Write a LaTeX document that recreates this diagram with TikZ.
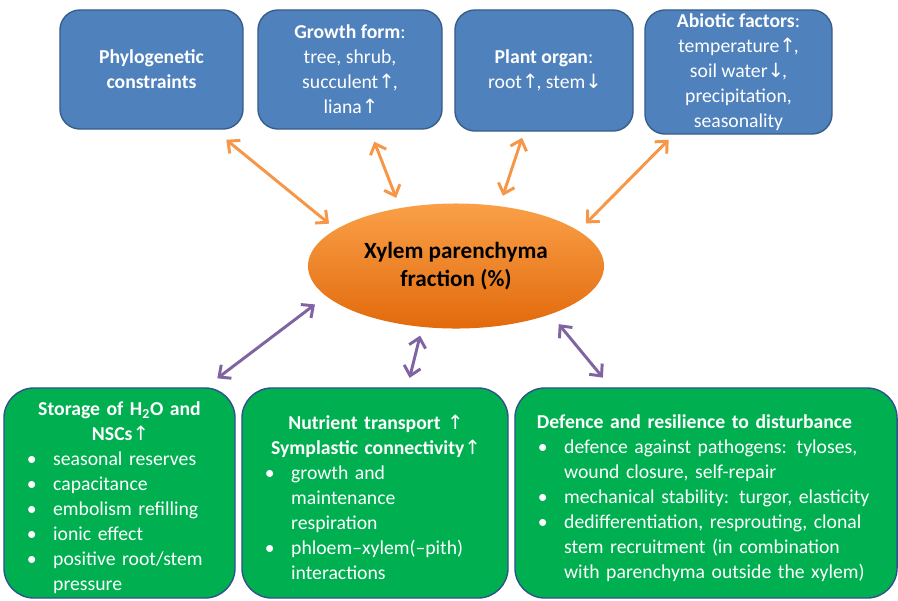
\documentclass[tikz,border=0pt]{standalone}
\usepackage{fontspec}
\setmainfont{Carlito}
\newfontfamily\symfont{DejaVu Sans}
\usetikzlibrary{arrows.meta, shapes.geometric}
\definecolor{boxblue}{RGB}{79,129,189}
\definecolor{boxblueline}{RGB}{56,93,138}
\definecolor{boxgreen}{RGB}{0,176,80}
\definecolor{boxgreenline}{RGB}{47,82,143}
\definecolor{arrorange}{RGB}{247,150,70}
\definecolor{arrpurple}{RGB}{128,100,162}
\definecolor{elltop}{RGB}{250,160,72}
\definecolor{ellbot}{RGB}{226,106,12}
\newcommand{\up}{{\symfont\mdseries ↑}\kern-0.1em}
\newcommand{\down}{{\symfont\mdseries ↓}\kern-0.1em}
\newcommand{\bitem}{\par\leftskip=0.68cm\noindent\llap{\makebox[0.68cm][l]{\hspace{0.02cm}\textbullet}}}
\tikzset{
    topbox/.style={rectangle, rounded corners=0.5cm, draw=boxblueline, fill=boxblue, line width=1pt, align=center, text=white, font=\fontsize{14}{17.8}\selectfont, inner sep=0pt, outer sep=0pt},
    effectbox/.style={rectangle, rounded corners=0.75cm, draw=boxgreenline, fill=boxgreen, line width=1pt, text=white, font=\fontsize{14}{17.8}\selectfont, inner xsep=0.55cm, inner ysep=0pt, outer sep=0pt, minimum height=5.25cm},
    centre/.style={ellipse, top color=elltop, bottom color=ellbot, draw=none, minimum width=7.4cm, minimum height=3.125cm, inner sep=0pt, outer sep=0pt, align=center, font=\fontsize{16.5}{20}\selectfont\bfseries},
    orangearr/.style={{Straight Barb[length=6.5pt,width=12pt]}-{Straight Barb[length=6.5pt,width=12pt]}, line width=2.1pt, draw=arrorange},
    purplearr/.style={{Straight Barb[length=6.5pt,width=12pt]}-{Straight Barb[length=6.5pt,width=12pt]}, line width=2.1pt, draw=arrpurple}
}
\begin{document}
\begin{tikzpicture}[x=0.025cm, y=-0.025cm]
    \useasboundingbox (0,0) rectangle (898,600);
    % factors
    \node[topbox, minimum width=4.575cm, minimum height=2.975cm] (phylo) at (151.5,69.5) {\textbf{Phylogenetic}\\\textbf{constraints}};
    \node[topbox, minimum width=4.6cm, minimum height=2.975cm] (growth) at (350,69.5) {\textbf{Growth form}:\\tree, shrub,\\succulent\up,\\liana\up};
    \node[topbox, minimum width=4.45cm, minimum height=3.025cm] (organ) at (544,70.5) {\textbf{Plant organ}:\\root\up, stem\down};
    \node[topbox, minimum width=4.675cm, minimum height=3.1cm] (abiotic) at (738.5,72) {\textbf{Abiotic factors}:\\temperature\up,\\soil water\down,\\precipitation,\\seasonality};
    % centre
    \node[centre] (xy) at (456,266) {Xylem parenchyma\\fraction (\%)};
    % functions
    \node[effectbox, minimum width=5.775cm, text width=4.675cm] (storage) at (119.5,493) {%
        {\centering\bfseries\rule{0pt}{17pt}Storage of H\textsubscript{2}O and\\NSCs\up\par}
        \bitem seasonal reserves
        \bitem capacitance
        \bitem embolism refilling
        \bitem ionic effect
        \bitem positive root/stem\\pressure\par};
    \node[effectbox, minimum width=6.65cm, text width=5.55cm] (nutrient) at (375,493) {%
        {\centering\bfseries\rule{0pt}{17pt}Nutrient transport \up\\Symplastic connectivity\up\par}
        \bitem growth and\\maintenance\\respiration
        \bitem phloem--xylem(--pith)\\interactions\par};
    \node[effectbox, minimum width=9.55cm, text width=8.45cm] (defence) at (706,493) {%
        \noindent\rule{0pt}{17pt}\textbf{Defence and resilience to disturbance}
        \bitem defence against pathogens: tyloses,\\wound closure, self-repair
        \bitem mechanical stability: turgor, elasticity
        \bitem dedifferentiation, resprouting, clonal\\stem recruitment (in combination\\with parenchyma outside the xylem)\par};
    % connectors
    \draw[orangearr, shorten <=0.425cm, shorten >=0.225cm] (phylo.-44.5) -- (xy.163);
    \draw[orangearr, shorten <=0.34cm, shorten >=0.275cm] (growth.-72.6) -- (xy.134);
    \draw[orangearr, shorten <=0.18cm, shorten >=0.275cm] (organ.-108.3) -- (xy.54.6);
    \draw[orangearr, shorten <=0.2cm, shorten >=0.26cm] (abiotic.-136.8) -- (xy.16.1);
    \draw[purplearr, shorten <=0.4cm, shorten >=0.35cm] (storage.51.7) -- (xy.193.4);
    \draw[purplearr, shorten <=0.26cm, shorten >=0.225cm] (nutrient.73.7) -- (xy.241.2);
    \draw[purplearr, shorten <=0.335cm, shorten >=0.325cm] (defence.132.5) -- (xy.-27);
\end{tikzpicture}
\end{document}
